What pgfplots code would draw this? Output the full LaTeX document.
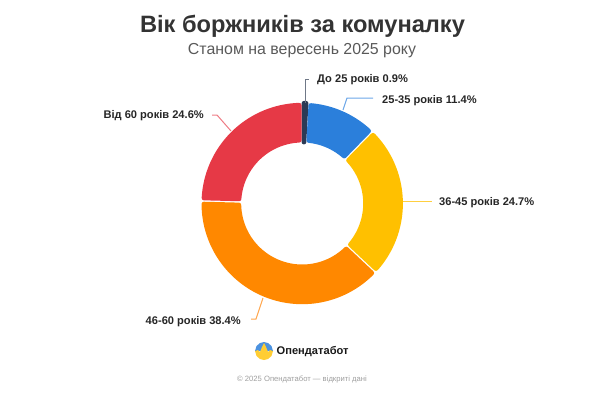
\documentclass[border=0pt]{standalone}
\usepackage{pgfplots}
\pgfplotsset{compat=1.18}
\usepackage{fontspec}
\setmainfont{Liberation Sans}
\definecolor{cDark}{HTML}{2B3A55}
\definecolor{cBlue}{HTML}{2B7FDB}
\definecolor{cYel}{HTML}{FFC000}
\definecolor{cOr}{HTML}{FF8800}
\definecolor{cRed}{HTML}{E63946}
\definecolor{lDark}{HTML}{6F7887}
\definecolor{lBlue}{HTML}{6BA6E8}
\definecolor{lYel}{HTML}{FFCF40}
\definecolor{lOr}{HTML}{FFA64D}
\definecolor{lRed}{HTML}{EE7C85}
\def\cx{302.2}\def\cy{203.5}\def\Ro{100.7}\def\Ri{61}
\newcommand\running{0}
% #1 share in percent, #2 colour, #3 gap half width, #4 corner radius
\newcommand\sector[4]{%
  \pgfmathsetmacro\aS{\running*3.6}%
  \pgfmathsetmacro\aE{(\running+#1)*3.6}%
  \pgfmathsetmacro\rO{\Ro-#4}%
  \pgfmathsetmacro\rI{\Ri+#4}%
  \pgfmathsetmacro\dO{(#3+#4)/\rO*57.2958}%
  \pgfmathsetmacro\dI{(#3+#4)/\rI*57.2958}%
  \gdef\pts{}%
  \foreach \k in {0,...,60}{%
    \pgfmathsetmacro\t{\aS+\dO+(\aE-\aS-2*\dO)*\k/60}%
    \pgfmathsetmacro\px{\cx+\rO*sin(\t)}%
    \pgfmathsetmacro\py{\cy-\rO*cos(\t)}%
    \xdef\pts{\pts (\px,\py)}%
  }%
  \foreach \k in {0,...,60}{%
    \pgfmathsetmacro\t{\aE-\dI-(\aE-\aS-2*\dI)*\k/60}%
    \pgfmathsetmacro\px{\cx+\rI*sin(\t)}%
    \pgfmathsetmacro\py{\cy-\rI*cos(\t)}%
    \xdef\pts{\pts (\px,\py)}%
  }%
  \pgfmathparse{2*#4}\edef\lw{\pgfmathresult}%
  \addplot[fill=#2,draw=#2,line width=\lw pt,line join=round] coordinates {\pts} -- cycle;%
  \pgfmathsetmacro\newrun{\running+#1}%
  \xdef\running{\newrun}%
}
\begin{document}
\begin{tikzpicture}
\begin{axis}[
  scale only axis,width=600pt,height=394pt,
  xmin=0,xmax=600,ymin=0,ymax=394,y dir=reverse,
  axis lines=none,clip=false,
  every axis plot/.append style={mark=none},
  cycle list={{black}},
  tick style={draw=none},
]
\sector{0.9}{cDark}{1.3}{0.4}
\sector{11.4}{cBlue}{0.7}{2.3}
\sector{24.7}{cYel}{0.7}{2.3}
\sector{38.4}{cOr}{0.7}{2.3}
\sector{24.6}{cRed}{0.7}{2.3}
% leader lines
\addplot[lDark,line width=1pt] coordinates {(305,103) (305,79) (309,79)};
\addplot[lBlue,line width=1pt] coordinates {(343,110) (347,98) (373,98)};
\addplot[lYel,line width=1pt] coordinates {(403,201) (432,201)};
\addplot[lOr,line width=1pt] coordinates {(263,298) (256,319) (251,319)};
\addplot[lRed,line width=1pt] coordinates {(231,131) (217,115) (212,115)};
% logo
\addplot[fill=cBlue!85!white,draw=none] coordinates {(255,351) (256.5,346) (260,343) (264,342) (268,343) (271.5,346) (273,351)} -- cycle;
\addplot[fill=cYel!80!white,draw=none] coordinates {(255,351) (258,350) (260,352) (262,347) (264,343) (266,347) (268,352) (270,350) (273,351) (271.5,356) (268,359) (264,360) (260,359) (256.5,356)} -- cycle;
% texts
\node[font=\bfseries\fontsize{23.65}{28}\selectfont,text=black!80] at (axis cs:302.5,26) {Вік боржників за комуналку};
\node[font=\fontsize{15.9}{18}\selectfont,text=black!65] at (axis cs:302,50.5) {Станом на вересень 2025 року};
\def\lab{\bfseries\fontsize{11.1}{14}\selectfont}
\node[font=\lab,text=black!85,anchor=west,inner sep=0pt] at (axis cs:317,79.8) {До 25 років 0.9\%};
\node[font=\lab,text=black!85,anchor=west,inner sep=0pt] at (axis cs:382,100.8) {25-35 років 11.4\%};
\node[font=\lab,text=black!85,anchor=west,inner sep=0pt] at (axis cs:439,202.8) {36-45 років 24.7\%};
\node[font=\lab,text=black!85,anchor=east,inner sep=0pt] at (axis cs:241,321.8) {46-60 років 38.4\%};
\node[font=\lab,text=black!85,anchor=east,inner sep=0pt] at (axis cs:204,115.8) {Від 60 років 24.6\%};
\node[font=\bfseries\fontsize{11.1}{14}\selectfont,text=black!90,anchor=west,inner sep=0pt] at (axis cs:276.5,351.5) {Опендатабот};
\node[font=\fontsize{7.65}{10}\selectfont,text=black!38] at (axis cs:302,379.5) {© 2025 Опендатабот — відкриті дані};
\end{axis}
\useasboundingbox (0,0) rectangle (600pt,394pt);
\end{tikzpicture}
\end{document}
